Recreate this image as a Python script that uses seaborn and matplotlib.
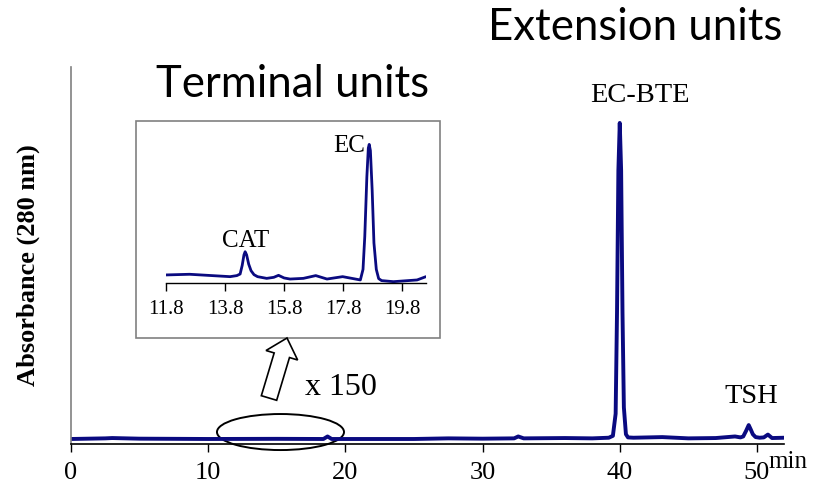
import matplotlib
matplotlib.use("Agg")
import matplotlib.pyplot as plt
import matplotlib.patches as mpatches
from matplotlib.transforms import IdentityTransform
import pandas as pd
import seaborn as sns

# full chromatogram (min, relative absorbance)
main_time = [0.0, 2.5, 3.0, 5.0, 10.0, 15.0, 18.4, 18.7, 19.0, 25.0, 27.5, 30.0,
             32.3, 32.6, 33.0, 36.0, 38.0, 39.2, 39.5, 39.7, 39.8, 39.9, 40.0,
             40.1, 40.2, 40.3, 40.45, 40.6, 41.0, 43.1, 45.0, 47.0, 48.4, 48.8,
             49.0, 49.2, 49.4, 49.55, 49.7, 49.9, 50.2, 50.5, 50.8, 51.1, 52.0]
main_abs = [0.0, 0.2, 0.3, 0.1, 0.0, 0.05, 0.0, 0.8, 0.0, 0.0, 0.2, 0.1,
            0.2, 0.8, 0.2, 0.3, 0.2, 0.4, 1.0, 8.0, 40.0, 85.0, 100.0,
            85.0, 40.0, 10.0, 1.5, 0.5, 0.4, 0.6, 0.2, 0.3, 0.8, 0.5,
            0.8, 2.5, 4.4, 3.0, 1.5, 0.6, 0.4, 0.5, 1.4, 0.3, 0.4]
main_ticks = [0, 10, 20, 30, 40, 50]

# terminal units region, x 150
inset_time = [11.8, 12.6, 13.97, 14.2, 14.31, 14.38, 14.44, 14.48, 14.53, 14.6,
              14.68, 14.78, 14.9, 15.21, 15.45, 15.61, 15.8, 16.0, 16.45, 16.87,
              17.25, 17.78, 18.38, 18.47, 18.53, 18.6, 18.65, 18.68, 18.72, 18.78,
              18.84, 18.92, 19.0, 19.1, 19.5, 20.3, 20.6]
inset_abs = [0.8, 1.3, -0.5, 0.3, 1.5, 8.0, 16.0, 18.4, 16.0, 9.0,
             4.0, 1.0, -0.5, -1.8, -1.0, 0.5, -1.5, -2.3, -1.8, 0.3,
             -2.3, -0.5, -3.0, 5.0, 30.0, 75.0, 97.0, 99.7, 95.0, 65.0,
             25.0, 5.0, -2.0, -3.5, -4.3, -3.0, -0.5]
inset_ticks = [11.8, 13.8, 15.8, 17.8, 19.8]

peak_labels = ["EC-BTE", "TSH"]
peak_label_x = [41.5, 49.6]
peak_label_y = [106.6, 11.4]
inset_labels = ["CAT", "EC"]

line_color = "#0a0a80"
serif = ["Liberation Serif", "DejaVu Serif"]
sans = ["Lato", "DejaVu Sans"]

sns.set_style("white")
plt.rcParams["font.family"] = serif
plt.rcParams["text.color"] = "black"
plt.rcParams["xtick.color"] = "black"

fig = plt.figure(figsize=(8.18, 4.88), dpi=100)
ax = fig.add_axes([0.0868, 0.0902, 0.8721, 0.7725])

df_main = pd.DataFrame({"time": main_time, "abs": main_abs})
sns.lineplot(data=df_main, x="time", y="abs", ax=ax, color=line_color, lw=2.8)
ax.set_xlim(0, 52)
ax.set_ylim(-1.58, 117.7)
ax.set_xticks(main_ticks)
ax.set_yticks([])
ax.set_xlabel("")
ax.set_ylabel("Absorbance (280 nm)", fontsize=19, fontweight="bold", color="black")
ax.yaxis.set_label_coords(-0.043, 0.475)
ax.tick_params(axis="x", direction="out", length=6, width=1, pad=7,
               labelsize=19, bottom=True, color="black", labelcolor="black")
for side in ["top", "right"]:
    ax.spines[side].set_visible(False)
ax.spines["bottom"].set_color("black")
ax.spines["bottom"].set_linewidth(1.2)
ax.spines["left"].set_color("#808080")
ax.spines["left"].set_linewidth(1.2)

for lab, x, y in zip(peak_labels, peak_label_x, peak_label_y):
    ax.text(x, y, lab, ha="center", va="baseline", fontsize=20.5)

# ellipse marking the zoomed region
ax.add_patch(mpatches.Ellipse((15.27, 2.2), 9.26, 11.4, fill=False,
                              edgecolor="black", lw=1.4, clip_on=False))

fig.text(788 / 818, 1 - 468 / 488, "min", ha="center", va="baseline", fontsize=18)

# inset frame
fig.add_artist(mpatches.Rectangle((0.1663, 0.3074), 0.3716, 0.4447,
                                  transform=fig.transFigure, fill=False,
                                  edgecolor="#808080", lw=1.2))

axi = fig.add_axes([0.2029, 0.4201, 0.3178, 0.3135])
df_ins = pd.DataFrame({"time": inset_time, "abs": inset_abs})
sns.lineplot(data=df_ins, x="time", y="abs", ax=axi, color=line_color, lw=2.0)
axi.set_xlim(11.8, 20.6)
axi.set_ylim(-5.3, 110.6)
axi.set_xticks(inset_ticks)
axi.set_xticklabels([f"{t:.1f}" for t in inset_ticks])
axi.set_yticks([])
axi.set_xlabel("")
axi.set_ylabel("")
axi.patch.set_alpha(0)
axi.tick_params(axis="x", direction="out", length=6, width=1, pad=6,
                labelsize=15, bottom=True, color="black", labelcolor="black")
for side in ["top", "right", "left"]:
    axi.spines[side].set_visible(False)
axi.spines["bottom"].set_color("black")
axi.spines["bottom"].set_linewidth(1)
axi.text(14.5, 22.2, inset_labels[0], ha="center", va="baseline", fontsize=18)
axi.text(18.55, 94.2, inset_labels[1], ha="right", va="baseline", fontsize=18)

# hollow arrow from ellipse to inset
fig.add_artist(mpatches.FancyArrow(269, 90, 18, 60, width=16, head_width=33,
                                   head_length=18, length_includes_head=True,
                                   transform=IdentityTransform(),
                                   facecolor="white", edgecolor="black", lw=1.2))
fig.text(341 / 818, 1 - 395 / 488, "x 150", ha="center", va="baseline", fontsize=23)

fig.text(156 / 818, 1 - 97 / 488, "Terminal units", ha="left", va="baseline",
         fontsize=31.5, family=sans)
fig.text(488 / 818, 1 - 40 / 488, "Extension units", ha="left", va="baseline",
         fontsize=31.5, family=sans)

fig.savefig("out.png", dpi=100)
